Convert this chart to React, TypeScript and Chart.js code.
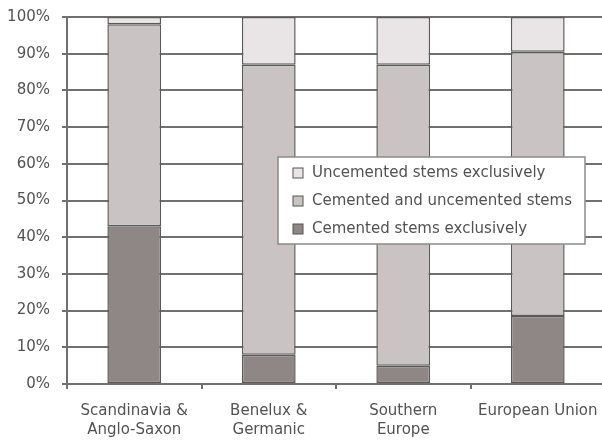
import React, { useEffect, useRef } from "react";
import { Chart, registerables } from "chart.js";

Chart.register(...registerables);

const categories: string[][] = [
  ["Scandinavia &", "Anglo-Saxon"],
  ["Benelux &", "Germanic"],
  ["Southern", "Europe"],
  ["European Union"],
];
const cementedExclusively = [43, 8, 5, 18.5];
const cementedAndUncemented = [55, 79, 82, 72];
const uncementedExclusively = [2, 13, 13, 9.5];
const seriesLabels = [
  "Cemented stems exclusively",
  "Cemented and uncemented stems",
  "Uncemented stems exclusively",
];
const seriesColors = ["#8f8686", "#c9c4c3", "#e9e4e5"];

const FONT = "'DejaVu Sans', sans-serif";
const TEXT = "#525252";
const GRID = "#707070";

const legendPlugin = {
  id: "boxLegend",
  afterDraw(chart: any) {
    const ctx = chart.ctx as CanvasRenderingContext2D;
    const x0 = 278, y0 = 161, w = 307, h = 87;
    ctx.save();
    ctx.fillStyle = "#ffffff";
    ctx.fillRect(x0, y0, w, h);
    ctx.strokeStyle = "#8a8a8a";
    ctx.lineWidth = 1.5;
    ctx.strokeRect(x0, y0, w, h);
    const ds = chart.data.datasets;
    const order = [2, 1, 0];
    ctx.font = `15px ${FONT}`;
    ctx.textBaseline = "middle";
    ctx.textAlign = "left";
    order.forEach((di, i) => {
      const cy = y0 + 16 + i * 28;
      ctx.fillStyle = ds[di].backgroundColor;
      ctx.fillRect(x0 + 15, cy - 5, 10, 10);
      ctx.strokeStyle = "#555";
      ctx.lineWidth = 1;
      ctx.strokeRect(x0 + 15, cy - 5, 10, 10);
      ctx.fillStyle = TEXT;
      ctx.fillText(ds[di].label, x0 + 34, cy);
    });
    ctx.restore();
  },
};

export default function App() {
  const ref = useRef<HTMLCanvasElement | null>(null);
  useEffect(() => {
    if (!ref.current) return;
    const values = [cementedExclusively, cementedAndUncemented, uncementedExclusively];
    const chart = new Chart(ref.current, {
      type: "bar",
      data: {
        labels: categories,
        datasets: values.map((v, i) => ({
          label: seriesLabels[i],
          data: v,
          backgroundColor: seriesColors[i],
          borderColor: "#5a5a5a",
          borderWidth: 1.5,
          borderSkipped: false,
          categoryPercentage: 0.8,
          barPercentage: 0.5,
        })),
      },
      options: {
        animation: false,
        responsive: false,
        layout: { padding: { top: 12, left: 0, right: 7, bottom: 0 } },
        plugins: { legend: { display: false }, tooltip: { enabled: false } },
        scales: {
          x: {
            stacked: true,
            grid: {
              offset: true,
              drawOnChartArea: false,
              drawTicks: true,
              tickLength: 5,
              color: GRID,
              lineWidth: 2,
            },
            border: { color: GRID, width: 2 },
            ticks: {
              color: TEXT,
              padding: 13,
              maxRotation: 0,
              autoSkip: false,
              font: { family: FONT, size: 15, lineHeight: 1.25 },
            },
            afterFit: (s: any) => {
              s.height = 60;
            },
          },
          y: {
            stacked: true,
            min: 0,
            max: 100,
            ticks: {
              stepSize: 10,
              color: TEXT,
              padding: 12,
              font: { family: FONT, size: 15 },
              callback: (v: any) => `${v}%`,
            },
            grid: { color: GRID, lineWidth: 2, tickLength: 5 },
            border: { color: GRID, width: 2 },
            afterFit: (s: any) => {
              s.width = 67;
            },
          },
        },
      },
      plugins: [legendPlugin],
    });
    return () => chart.destroy();
  }, []);
  return (
    <div
      style={{
        position: "fixed",
        left: 0,
        top: 0,
        width: 602,
        height: 444,
        overflow: "hidden",
        background: "#fff",
      }}
    >
      <canvas
        ref={ref}
        width={612}
        height={448}
        style={{ display: "block", marginTop: -4 }}
      />
    </div>
  );
}
